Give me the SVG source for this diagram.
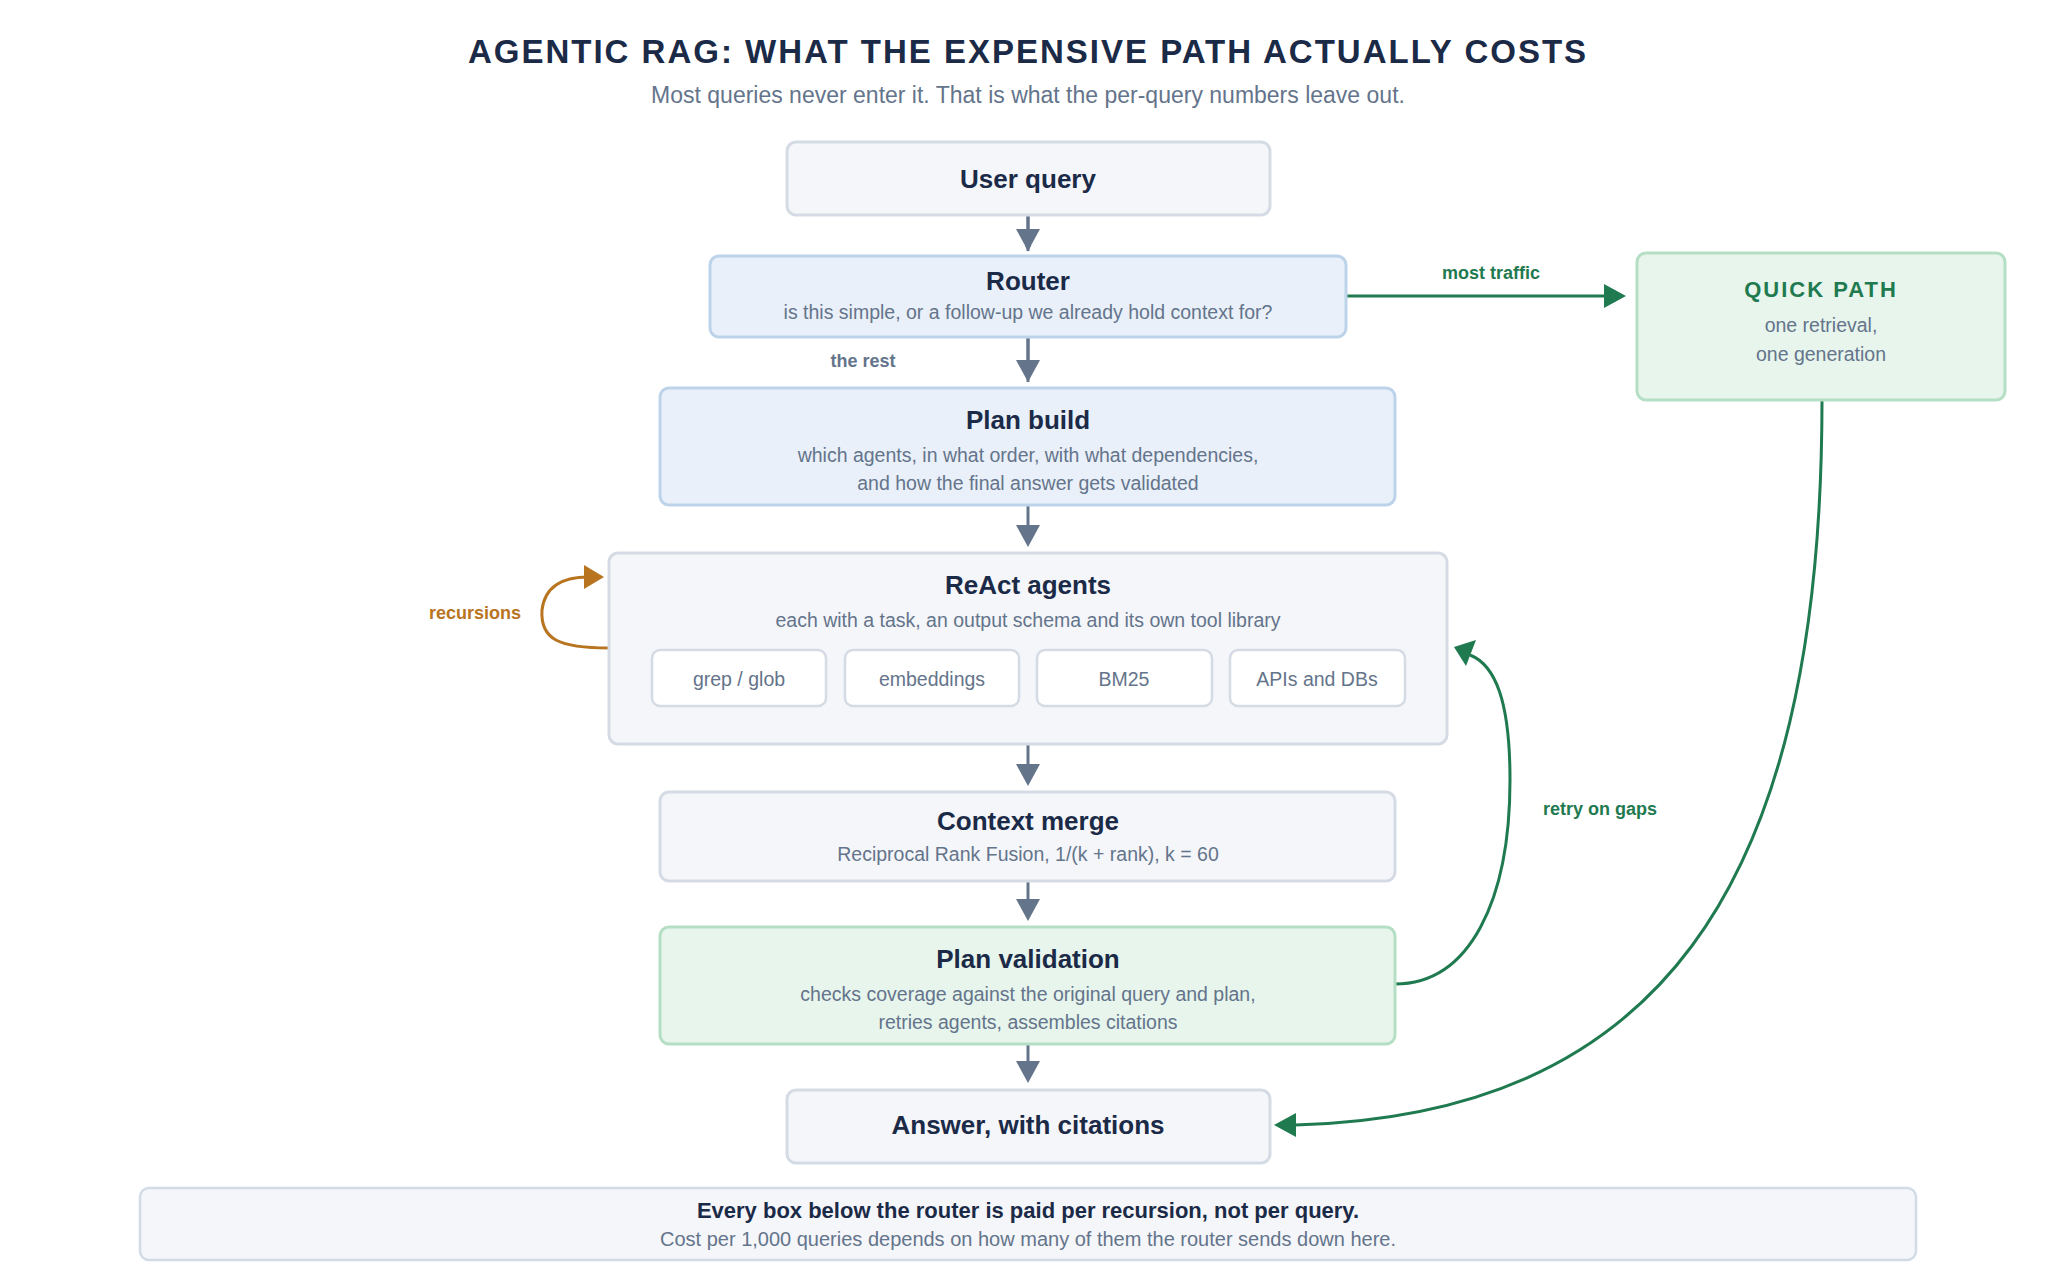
<svg xmlns="http://www.w3.org/2000/svg" width="2046" height="1276" viewBox="0 0 2046 1276">
<defs>
<style>
text{font-family:"Liberation Sans",Arial,sans-serif;text-anchor:middle}
.t{font-weight:bold;fill:#1b2a47;font-size:26px}
.s{fill:#64748b;font-size:19.5px}
.n{fill:#f4f6fa;stroke:#d5dbe5;stroke-width:3}
.b{fill:#e9f0f9;stroke:#bcd3ea;stroke-width:3}
.g{fill:#e7f5ec;stroke:#b5dfc5;stroke-width:3}
.w{fill:#fff;stroke:#d5dbe5;stroke-width:2.5}
.a{stroke:#64748b;stroke-width:3;fill:none}
.gl{stroke:#1f7a50;stroke-width:3;fill:none}
</style>
<marker id="ma" viewBox="0 0 10 10" refX="9" refY="5" markerWidth="7" markerHeight="7" markerUnits="userSpaceOnUse" orient="auto"><path d="M0,0L10,5L0,10z" fill="#64748b"/></marker>
<marker id="mg" viewBox="0 0 10 10" refX="9" refY="5" markerWidth="7" markerHeight="7" orient="auto"><path d="M0,0L10,5L0,10z" fill="#1f7a50"/></marker>
<marker id="mo" viewBox="0 0 10 10" refX="9" refY="5" markerWidth="7" markerHeight="7" orient="auto"><path d="M0,0L10,5L0,10z" fill="#b8741f"/></marker>
</defs>
<rect width="2046" height="1276" fill="#fff"/>
<text x="1028" y="63" style="font-size:33px;font-weight:bold;fill:#1b2a47;letter-spacing:2px">AGENTIC RAG: WHAT THE EXPENSIVE PATH ACTUALLY COSTS</text>
<text x="1028" y="103" style="font-size:23px;fill:#64748b">Most queries never enter it. That is what the per-query numbers leave out.</text>

<g id="connectors">
<path class="a" d="M1028,215V251" marker-end="url(#ma)" style="stroke-width:3"/>
<path class="a" d="M1028,337V382"/>
<path d="M1016,360L1028,382L1040,360z" fill="#64748b"/>
<path class="a" d="M1028,505V525"/><path d="M1016,525L1028,547L1040,525z" fill="#64748b"/>
<path class="a" d="M1028,744V764"/><path d="M1016,764L1028,786L1040,764z" fill="#64748b"/>
<path class="a" d="M1028,881V899"/><path d="M1016,899L1028,921L1040,899z" fill="#64748b"/>
<path class="a" d="M1028,1044V1061"/><path d="M1016,1061L1028,1083L1040,1061z" fill="#64748b"/>
<path class="a" d="M1028,215V229"/><path d="M1016,229L1028,251L1040,229z" fill="#64748b"/>
<path class="a" d="M1028,337V360"/>
<path class="gl" d="M1346,296H1606"/><path d="M1604,284L1626,296L1604,308z" fill="#1f7a50"/>
<text x="1491" y="279" style="font-size:18px;font-weight:bold;fill:#1f7a50">most traffic</text>
<text x="863" y="367" style="font-size:18px;font-weight:bold;fill:#64748b">the rest</text>
<path d="M609,648C560,648 540,640 542,610C545,585 565,577 588,577" fill="none" stroke="#b8741f" stroke-width="3"/>
<path d="M584,565L604,577L584,589z" fill="#b8741f"/>
<text x="475" y="619" style="font-size:18px;font-weight:bold;fill:#b8741f">recursions</text>
<path class="gl" d="M1395,984C1470,984 1510,900 1510,780C1510,700 1495,665 1470,655"/>
<path d="M1476,640L1454,647L1466,666z" fill="#1f7a50"/>
<text x="1600" y="815" style="font-size:18px;font-weight:bold;fill:#1f7a50">retry on gaps</text>
<path class="gl" d="M1822,400C1822,900 1650,1115 1295,1125"/>
<path d="M1296,1113L1274,1125L1296,1137z" fill="#1f7a50"/>
</g>

<g id="user"><rect class="n" x="787" y="142" width="483" height="73" rx="9"/><text class="t" x="1028" y="188">User query</text></g>
<g id="router"><rect class="b" x="710" y="256" width="636" height="81" rx="9"/><text class="t" x="1028" y="290">Router</text><text class="s" x="1028" y="319">is this simple, or a follow-up we already hold context for?</text></g>
<g id="plan"><rect class="b" x="660" y="388" width="735" height="117" rx="9"/><text class="t" x="1028" y="429">Plan build</text><text class="s" x="1028" y="462">which agents, in what order, with what dependencies,</text><text class="s" x="1028" y="490">and how the final answer gets validated</text></g>
<g id="react"><rect class="n" x="609" y="553" width="838" height="191" rx="9"/><text class="t" x="1028" y="594">ReAct agents</text><text class="s" x="1028" y="627">each with a task, an output schema and its own tool library</text>
<rect class="w" x="652" y="650" width="174" height="56" rx="8"/><text class="s" x="739" y="686">grep / glob</text>
<rect class="w" x="845" y="650" width="174" height="56" rx="8"/><text class="s" x="932" y="686">embeddings</text>
<rect class="w" x="1037" y="650" width="175" height="56" rx="8"/><text class="s" x="1124" y="686">BM25</text>
<rect class="w" x="1230" y="650" width="175" height="56" rx="8"/><text class="s" x="1317" y="686">APIs and DBs</text></g>
<g id="merge"><rect class="n" x="660" y="792" width="735" height="89" rx="9"/><text class="t" x="1028" y="830">Context merge</text><text class="s" x="1028" y="861">Reciprocal Rank Fusion, 1/(k + rank), k = 60</text></g>
<g id="validation"><rect class="g" x="660" y="927" width="735" height="117" rx="9"/><text class="t" x="1028" y="968">Plan validation</text><text class="s" x="1028" y="1001">checks coverage against the original query and plan,</text><text class="s" x="1028" y="1029">retries agents, assembles citations</text></g>
<g id="answer"><rect class="n" x="787" y="1090" width="483" height="73" rx="9"/><text class="t" x="1028" y="1134">Answer, with citations</text></g>
<g id="quick"><rect class="g" x="1637" y="253" width="368" height="147" rx="9"/><text x="1821" y="297" style="font-size:22px;font-weight:bold;fill:#1f7a50;letter-spacing:2px">QUICK PATH</text><text class="s" x="1821" y="332">one retrieval,</text><text class="s" x="1821" y="361">one generation</text></g>
<g id="footer"><rect class="n" x="140" y="1188" width="1776" height="72" rx="9" style="stroke-width:2.5"/><text x="1028" y="1218" style="font-size:22px;font-weight:bold;fill:#1b2a47">Every box below the router is paid per recursion, not per query.</text><text x="1028" y="1246" style="font-size:20px;fill:#64748b">Cost per 1,000 queries depends on how many of them the router sends down here.</text></g>
</svg>
